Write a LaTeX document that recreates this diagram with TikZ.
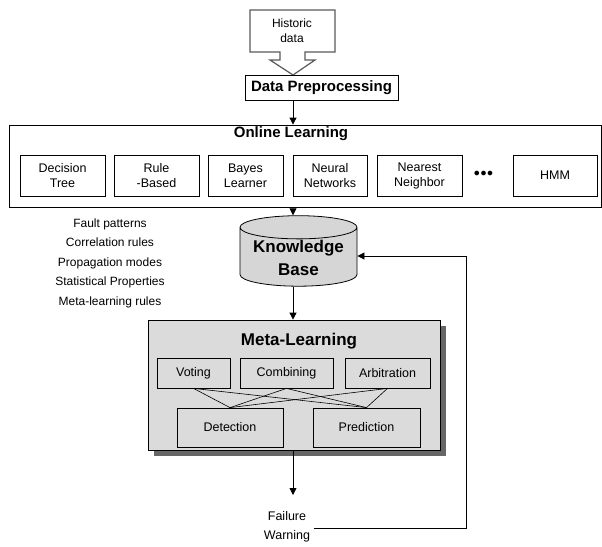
\documentclass[tikz,border=0pt]{standalone}
\usepackage{fontspec}
\setmainfont{Liberation Sans}
\usetikzlibrary{arrows.meta,shapes.geometric,shadows}
\colorlet{kbgray}{black!16}
\colorlet{metagray}{black!14}
\tikzstyle{algo}=[draw,line width=.8pt,align=center,inner sep=1pt,minimum height=41pt,font=\fontsize{12.5}{15}\selectfont]
\tikzstyle{comb}=[draw,line width=.8pt,align=center,inner sep=1pt,minimum height=30pt,font=\fontsize{12.5}{15}\selectfont]
\tikzstyle{title}=[font=\fontsize{14}{16}\selectfont\bfseries]
\tikzstyle{plain}=[align=center,font=\fontsize{12}{19.5}\selectfont]
\tikzstyle{flow}=[line width=.8pt,-{Triangle[length=7pt,width=7pt]}]
\begin{document}
\begin{tikzpicture}[x=1pt,y=-1pt]
	\useasboundingbox (0,0) rectangle (602,546);
	\coordinate (axis) at (293,0);
	% source callout
	\draw[line width=1.2pt,draw=black!65] (250,10) -- (335,10) -- (335,52) -- (305,52) -- (305,60) -- (315,60)
	  -- (293,75) -- (270,60) -- (280,60) -- (280,52) -- (250,52) -- cycle;
	\node[plain,font=\fontsize{12}{15}\selectfont] (hist) at (292,31) {Historic\\data};
	\node[draw,line width=.8pt,title,font=\fontsize{15}{17}\selectfont\bfseries,minimum width=153pt,minimum height=25pt] (prep) at (321.5,87.5) {Data Preprocessing};
	% online learning
	\node[draw,line width=.8pt,minimum width=592pt,minimum height=82pt] (online) at (305,166) {};
	\node[title,font=\fontsize{15}{17}\selectfont\bfseries,inner sep=0pt] (onlinetitle) at (291,134) {Online Learning};
	\node[algo,minimum width=85pt] (dtree) at (62.5,175.5) {Decision\\Tree};
	\node[algo,minimum width=85pt] (rule) at (156.5,175.5) {Rule\\-Based};
	\node[algo,minimum width=75pt] (bayes) at (245.5,175.5) {Bayes\\Learner};
	\node[algo,minimum width=74pt] (neural) at (330,175.5) {Neural\\Networks};
	\node[algo,minimum width=85pt] (nearest) at (419.5,175.5) {Nearest\\Neighbor};
	\node[font=\bfseries\fontsize{12}{14}\selectfont] (dots) at (483.5,174) {$\bullet\!\bullet\!\bullet$};
	\node[algo,minimum width=84pt] (hmm) at (555,175.5) {HMM};
	% knowledge base
	\node[cylinder,shape border rotate=90,aspect=.25,draw,line width=.8pt,fill=kbgray,minimum width=117pt,minimum height=66pt,
	  inner sep=1pt,align=center,font=\fontsize{17}{23}\selectfont\bfseries] (kb) at (298.5,258) {Knowledge\\Base};
	\node[plain] (facts) at (110,263) {Fault patterns\\Correlation rules\\Propagation modes\\Statistical Properties\\Meta-learning rules};
	% meta learning
	\node[draw,line width=.8pt,fill=metagray,minimum width=292pt,minimum height=130pt,
	  drop shadow={shadow xshift=6pt,shadow yshift=-6pt,fill=black!60,opacity=1}] (meta) at (294,385) {};
	\node[title,font=\fontsize{17}{19}\selectfont\bfseries] (metatitle) at (299,341) {Meta-Learning};
	\node[comb,minimum width=73pt] (voting) at (193.5,373) {Voting};
	\node[comb,minimum width=93pt] (combining) at (286.5,373) {Combining};
	\node[comb,minimum width=85pt] (arbitration) at (387.5,373) {Arbitration};
	\node[comb,minimum width=106pt,minimum height=39pt] (detection) at (230,427.5) {Detection};
	\node[comb,minimum width=107pt,minimum height=39pt] (prediction) at (366.5,427.5) {Prediction};
	\foreach \src in {voting,combining,arbitration}
	  \foreach \dst in {detection,prediction}
	    \draw[line width=.6pt] (\src.south) -- (\dst.north);
	\node[plain,font=\fontsize{12.5}{19}\selectfont] (warning) at (287,527) {Failure\\Warning};
	\coordinate (loop) at (466,528);
	\coordinate (warnend) at (293,495);
	% connectors
	\draw[flow] (prep.south -| axis) -- (online.north -| axis);
	\draw[flow] (online.south -| axis) -- (kb.top -| axis);
	\draw[flow] (kb.bottom -| axis) -- (meta.north -| axis);
	\draw[flow] (meta.south -| axis) -- (warnend);
	\draw[flow] (warning.east |- loop) -- (loop) |- (kb.east |- 0,256);
\end{tikzpicture}
\end{document}
